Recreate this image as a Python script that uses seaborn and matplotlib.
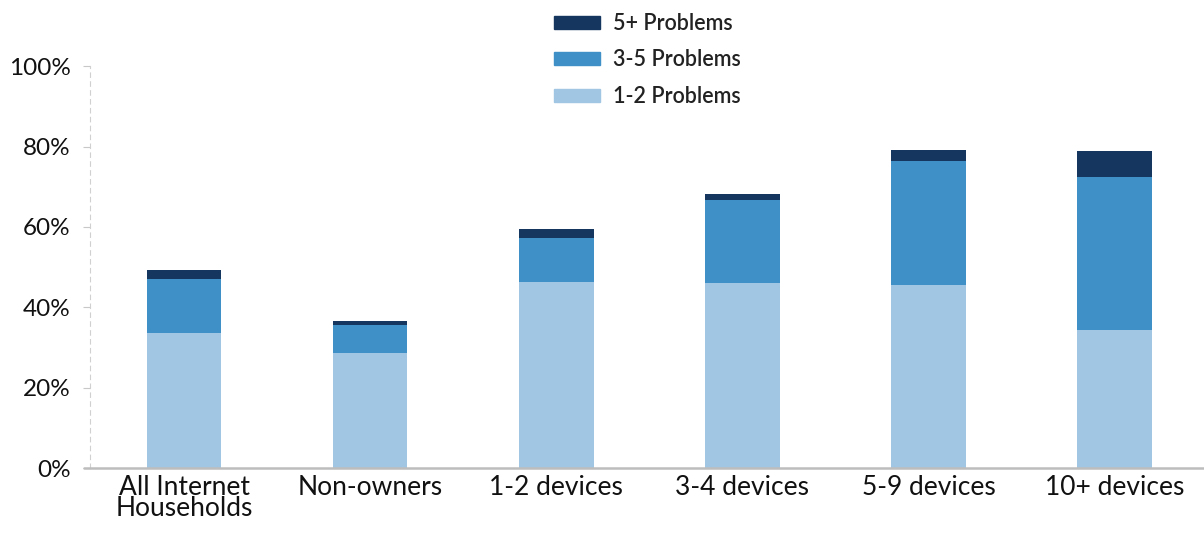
import matplotlib
matplotlib.use("Agg")
import matplotlib.pyplot as plt
import matplotlib.patches as mpatches
import numpy as np
import pandas as pd
import seaborn as sns

# Share of households reporting problems, by number of devices owned
categories = ["All Internet\nHouseholds", "Non-owners", "1-2 devices",
              "3-4 devices", "5-9 devices", "10+ devices"]
problems_1_2 = [33.7, 28.7, 46.3, 46.1, 45.5, 34.4]
problems_3_5 = [13.4, 6.8, 10.9, 20.6, 31.0, 37.9]
problems_5_plus = [2.2, 1.2, 2.4, 1.6, 2.6, 6.6]
series_names = ["5+ Problems", "3-5 Problems", "1-2 Problems"]
y_ticks = [0, 20, 40, 60, 80, 100]

c_dark = "#15375f"
c_mid = "#4090c8"
c_light = "#a1c6e3"

sns.set_theme(style="white")
plt.rcParams["font.family"] = ["Lato", "DejaVu Sans"]

df = pd.DataFrame({
    "category": categories,
    "low": problems_1_2,
    "mid": problems_3_5,
    "high": problems_5_plus,
})
df["cum_mid"] = df["low"] + df["mid"]
df["cum_high"] = df["cum_mid"] + df["high"]

fig = plt.figure(figsize=(12.04, 5.38), dpi=100)
ax = fig.add_axes([0.0748, 0.130, 0.9252, 0.747])

# Stacked bars drawn as layered cumulative totals
for col, color in [("cum_high", c_dark), ("cum_mid", c_mid), ("low", c_light)]:
    sns.barplot(data=df, x="category", y=col, color=color, width=0.4,
                saturation=1, ax=ax, linewidth=0)

ax.set_xlim(-0.505, 5.48)
ax.set_ylim(0, 100)
ax.set_yticks(y_ticks)
ax.set_yticklabels([f"{v}%" for v in y_ticks])
ax.set_xlabel("")
ax.set_ylabel("")

for s in ["top", "right", "bottom"]:
    ax.spines[s].set_visible(False)
ax.spines["left"].set_color("#d0d0d0")
ax.spines["left"].set_linestyle((0, (4, 4)))
ax.spines["left"].set_linewidth(0.8)
# baseline running slightly past the y axis
ax.axhline(0, xmin=-0.005, xmax=1, color="#bdbdbd", linewidth=1.8,
           clip_on=False, zorder=5)

ax.tick_params(axis="y", length=5, width=0.8, color="#c8c8c8", pad=9,
               labelsize=17.5, labelcolor="#111111", left=True)
ax.tick_params(axis="x", length=0, pad=5, labelsize=19, labelcolor="#111111")
for lbl in ax.get_xticklabels():
    lbl.set_linespacing(0.82)

handles = [mpatches.Patch(color=c, label=n)
           for c, n in zip([c_dark, c_mid, c_light], series_names)]
leg = fig.legend(handles=handles, loc="upper left", bbox_to_anchor=(0.444, 1.012),
                 frameon=False, fontsize=15.5, handlelength=2.15, handleheight=0.55,
                 labelspacing=0.72, handletextpad=0.6)
for t in leg.get_texts():
    t.set_color("#222222")
    t.set_fontweight(600)

fig.savefig("out.png", dpi=100)
